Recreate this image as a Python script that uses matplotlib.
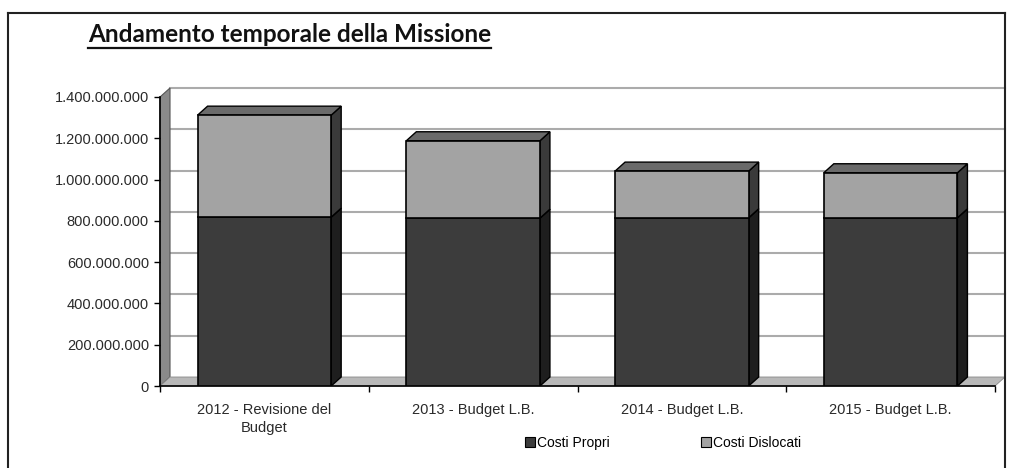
import matplotlib
matplotlib.use("Agg")
import matplotlib.pyplot as plt
from matplotlib.patches import Polygon, Patch, Rectangle
from matplotlib.lines import Line2D
import numpy as np

# ---------------- data ----------------
categories = ["2012 - Revisione del\nBudget", "2013 - Budget L.B.", "2014 - Budget L.B.", "2015 - Budget L.B."]
costi_propri = [818e6, 813e6, 815e6, 815e6]
costi_dislocati = [494e6, 375e6, 226e6, 218e6]
yticks = [0, 200e6, 400e6, 600e6, 800e6, 1000e6, 1200e6, 1400e6]
ytick_labels = ["0", "200.000.000", "400.000.000", "600.000.000", "800.000.000",
                "1.000.000.000", "1.200.000.000", "1.400.000.000"]
series_names = ["Costi Propri", "Costi Dislocati"]
title = "Andamento temporale della Missione"

# ---------------- style ----------------
FONT = ["Liberation Sans", "DejaVu Sans"]
c_propri = "#3c3c3c"
c_disl = "#a3a3a3"
W, H = 1009, 468
fig = plt.figure(figsize=(W / 100, H / 100), dpi=100)
fig.patch.set_facecolor("white")

ax_l, ax_r, ax_t, ax_b = 160, 995, 97, 386
ax = fig.add_axes([ax_l / W, 1 - ax_b / H, (ax_r - ax_l) / W, (ax_b - ax_t) / H])
ax.set_xlim(-0.5, 3.5)
ax.set_ylim(0, 1400e6)
ax.set_facecolor("none")

# pixel -> data conversions for the pseudo-3D depth
px_x = 4.0 / (ax_r - ax_l)
px_y = 1400e6 / (ax_b - ax_t)
dx = 10 * px_x
dy = 9 * px_y

x = np.arange(len(categories))
bw = 0.64

# side wall & floor of the 3D box
ax.add_patch(Polygon([(-0.5, 0), (-0.5 + dx, dy), (-0.5 + dx, 1400e6 + dy), (-0.5, 1400e6)],
                     closed=True, facecolor="#8a8a8a", edgecolor="#555555", lw=0.8,
                     clip_on=False, zorder=1))
ax.add_patch(Polygon([(-0.5, 0), (-0.5 + dx, dy), (3.5 + dx, dy), (3.5, 0)],
                     closed=True, facecolor="#b8b8b8", edgecolor="#888888", lw=0.6,
                     clip_on=False, zorder=1))

# back-wall gridlines
for v in yticks[1:]:
    ax.plot([-0.5 + dx, 3.5 + dx], [v + dy, v + dy], color="#ababab", lw=1.5,
            clip_on=False, zorder=0.5)

# bars with pseudo-3D top and side faces
def bar3d(xc, bottom, height, color, side, top_col):
    x0, x1 = xc - bw / 2, xc + bw / 2
    y0, y1 = bottom, bottom + height
    ax.add_patch(Polygon([(x1, y0), (x1 + dx, y0 + dy), (x1 + dx, y1 + dy), (x1, y1)],
                         closed=True, facecolor=side, edgecolor="black", lw=1.0, zorder=3))
    ax.add_patch(Polygon([(x0, y1), (x0 + dx, y1 + dy), (x1 + dx, y1 + dy), (x1, y1)],
                         closed=True, facecolor=top_col, edgecolor="black", lw=1.0, zorder=3))
    ax.add_patch(Rectangle((x0, y0), bw, height, facecolor=color, edgecolor="black",
                           lw=1.2, zorder=4))

for i in range(len(categories)):
    bar3d(x[i], 0, costi_propri[i], c_propri, "#1e1e1e", "#2e2e2e")
    bar3d(x[i], costi_propri[i], costi_dislocati[i], c_disl, "#3a3a3a", "#6a6a6a")

# axes styling
for s in ["top", "right"]:
    ax.spines[s].set_visible(False)
ax.spines["left"].set_color("black")
ax.spines["bottom"].set_color("black")
ax.spines["left"].set_linewidth(1.2)
ax.spines["bottom"].set_linewidth(1.2)
ax.set_yticks(yticks)
ax.set_yticklabels(ytick_labels, fontsize=10.5, family=FONT, color="#2a2a2a")
ax.tick_params(axis="y", length=4, width=1, pad=4, direction="out")
ax.set_xticks([-0.5, 0.5, 1.5, 2.5, 3.5])
ax.set_xticklabels([])
ax.tick_params(axis="x", length=4, width=1, direction="out")
ax.set_xticks(x, minor=True)
ax.set_xticklabels(categories, minor=True, fontsize=10.5, family=FONT, color="#2a2a2a",
                   linespacing=1.35)
ax.tick_params(axis="x", which="minor", length=0, pad=12)

# legend
handles = [Patch(facecolor=c_propri, edgecolor="black", lw=0.8),
           Patch(facecolor=c_disl, edgecolor="black", lw=0.8)]
fig.legend(handles, series_names, loc="center", bbox_to_anchor=(663 / W, 1 - 443 / H),
           ncol=2, frameon=False, handlelength=0.7, handleheight=0.7, handletextpad=0.15,
           columnspacing=6.6, prop={"family": FONT, "size": 10})

# title with underline
t = fig.text(88 / W, 1 - 35 / H, title, fontsize=17.5, fontweight="bold",
             family=["Lato", "DejaVu Sans"], ha="left", va="center", color="#111111")
fig.canvas.draw()
bb = t.get_window_extent(renderer=fig.canvas.get_renderer())
uy = (bb.y0 - 1) / H
fig.add_artist(Line2D([bb.x0 / W, bb.x1 / W], [uy, uy], color="#111111", lw=1.6))

# outer frame
frame_col = "#222222"
fig.add_artist(Line2D([8 / W, 8 / W], [0, 1 - 13 / H], color=frame_col, lw=1.5))
fig.add_artist(Line2D([8 / W, 1005 / W], [1 - 13 / H, 1 - 13 / H], color=frame_col, lw=1.5))
fig.add_artist(Line2D([1005 / W, 1005 / W], [0, 1 - 13 / H], color=frame_col, lw=1.5))

fig.savefig("out.png", dpi=100, facecolor="white")
